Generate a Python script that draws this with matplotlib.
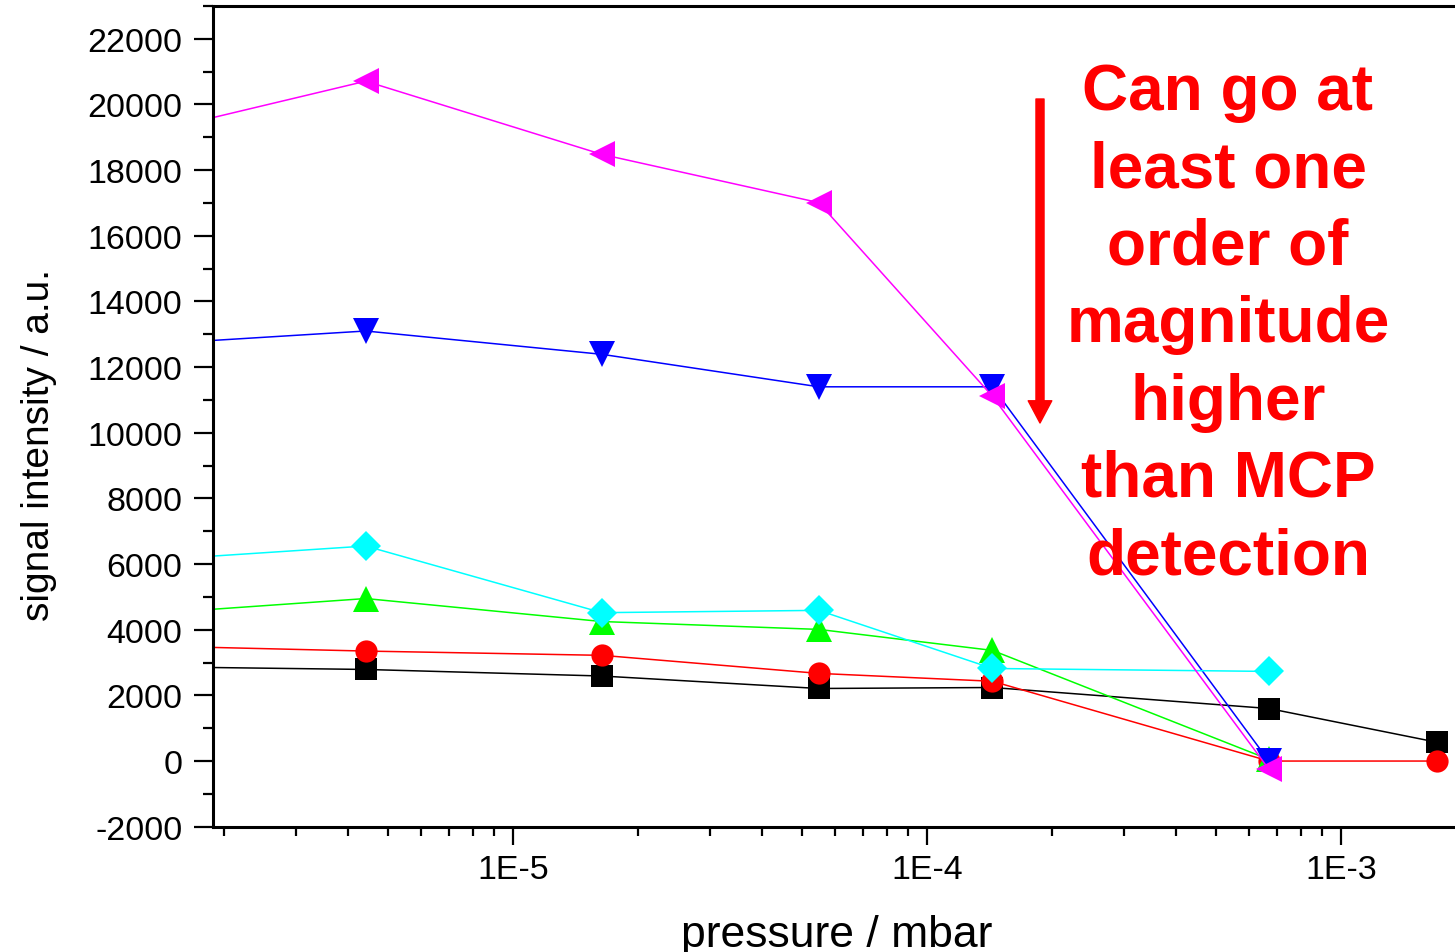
import math
import matplotlib
matplotlib.use('Agg')
import matplotlib.pyplot as plt
from matplotlib.ticker import FixedLocator, LogLocator, NullFormatter, FuncFormatter, MultipleLocator

plt.rcParams['font.family'] = ['Liberation Sans', 'DejaVu Sans']
plt.rcParams['axes.unicode_minus'] = False

# pressure (mbar) for each measurement
pressure = [1.2e-6, 4.41e-6, 1.64e-5, 5.48e-5, 1.44e-4, 6.7e-4, 1.71e-3]

# signal intensity for each series (a.u.)
sig_black = [2880, 2790, 2590, 2210, 2240, 1600, 570]
sig_red = [3520, 3350, 3220, 2670, 2430, 0, 0]
sig_green = [4450, 4950, 4250, 4010, 3370, 50]
sig_blue = [12660, 13100, 12390, 11400, 11400, 0]
sig_cyan = [6080, 6550, 4520, 4590, 2820, 2730]
sig_magenta = [19010, 20710, 18480, 17010, 11110, -250]

series = [
    (sig_black, 'black', 's', 16),
    (sig_red, 'red', 'o', 16),
    (sig_green, '#00FF00', '^', 19),
    (sig_blue, 'blue', 'v', 19),
    (sig_cyan, 'cyan', 'D', 15),
    (sig_magenta, 'magenta', '<', 19),
]

note = 'Can go at\nleast one\norder of\nmagnitude\nhigher\nthan MCP\ndetection'

W, H = 1455, 953
fig = plt.figure(figsize=(W / 100, H / 100), dpi=100)
left, right, top, bottom = 213, 1460, 7, 827.7
ax = fig.add_axes([left / W, (H - bottom) / H, (right - left) / W, (bottom - top) / H])

for vals, col, mk, ms in series:
    ax.plot(pressure[:len(vals)], vals, color=col, lw=1.1, marker=mk,
            markersize=ms, markeredgewidth=0)

ax.set_xscale('log')
ax.set_xlim(1.886e-6, 1.939e-3)
ax.set_ylim(-2000, 23000)

ax.xaxis.set_major_locator(FixedLocator([1e-5, 1e-4, 1e-3]))
ax.xaxis.set_major_formatter(FuncFormatter(lambda v, p: '1E%d' % round(math.log10(v))))
ax.xaxis.set_minor_locator(LogLocator(base=10, subs=range(2, 10)))
ax.xaxis.set_minor_formatter(NullFormatter())
ax.yaxis.set_major_locator(MultipleLocator(2000))
ax.yaxis.set_minor_locator(MultipleLocator(1000))

for s in ax.spines.values():
    s.set_linewidth(2.2)
ax.tick_params(axis='y', which='major', length=14, width=1.6, direction='out', labelsize=24.5, pad=8)
ax.tick_params(axis='y', which='minor', length=7, width=1.6, direction='out')
ax.tick_params(axis='x', which='major', length=13, width=1.6, direction='out', labelsize=24.5, pad=7)
ax.tick_params(axis='x', which='minor', length=6.5, width=1.6, direction='out')

ax.set_xlabel('pressure / mbar', fontsize=32)
ax.set_ylabel('signal intensity / a.u.', fontsize=28)
ax.xaxis.set_label_coords(0.5, -0.106)
ax.yaxis.set_label_coords(-0.1253, 0.466)

# red arrow and remark
ax.annotate('', xy=(1040 / W, 1 - 424 / H), xytext=(1040 / W, 1 - 100 / H),
            xycoords='figure fraction', textcoords='figure fraction',
            arrowprops=dict(width=5.8, headwidth=17, headlength=16, color='red', shrink=0))
fig.text(1228 / W, 1 - 63 / H, note, color='red', fontsize=46, fontweight='bold',
         ha='center', va='top', linespacing=1.37)

fig.savefig('out.png', dpi=100)
